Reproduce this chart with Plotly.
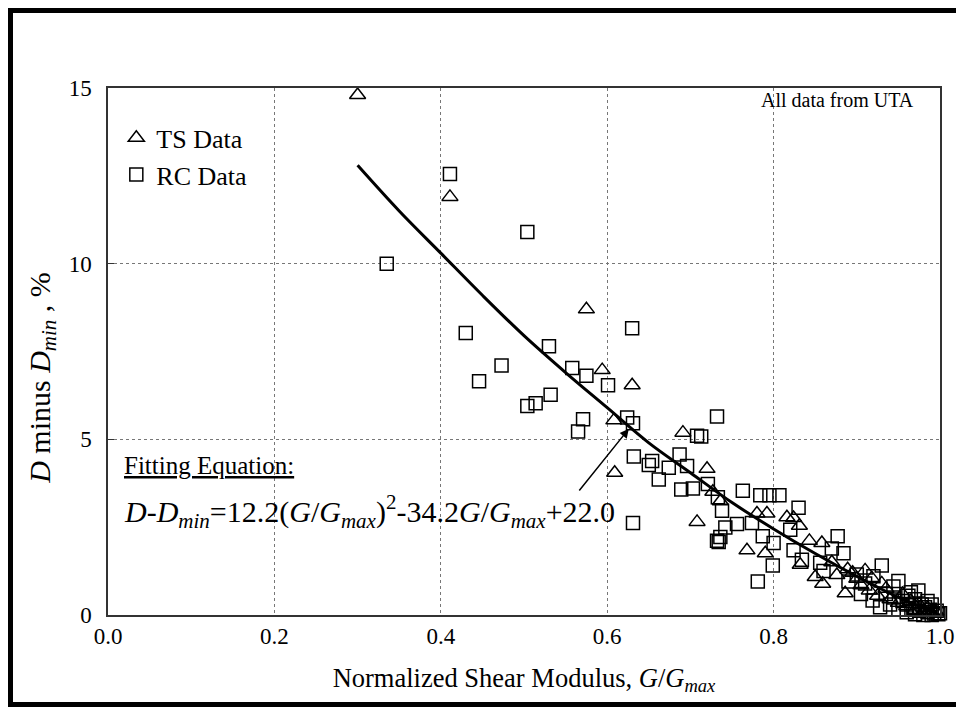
import plotly.graph_objects as go

# ---- data ----
ts_x = [0.300, 0.411, 0.575, 0.594, 0.630, 0.608, 0.609, 0.691, 0.720, 0.708,
        0.727, 0.736, 0.780, 0.792, 0.768, 0.790, 0.816, 0.824, 0.831, 0.843,
        0.858, 0.832, 0.850, 0.859, 0.886, 0.889, 0.910, 0.900, 0.876, 0.905,
        0.915, 0.925, 0.930, 0.940, 0.950, 0.955, 0.960, 0.965, 0.970, 0.975,
        0.980, 0.985, 0.990, 0.995, 0.870, 0.895, 0.918, 0.935]
ts_y = [14.8, 11.9, 8.70, 6.97, 6.54, 5.54, 4.05, 5.19, 4.16, 2.65,
        3.51, 3.24, 2.89, 2.89, 1.84, 1.76, 2.78, 2.76, 2.54, 2.11,
        2.05, 1.43, 1.08, 0.89, 0.62, 1.30, 1.27, 1.03, 1.14, 0.85,
        0.70, 0.55, 0.90, 0.45, 0.35, 0.60, 0.25, 0.40, 0.15, 0.30,
        0.10, 0.20, 0.05, 0.10, 1.50, 1.20, 1.05, 0.75]

rc_x = [0.411, 0.335, 0.504, 0.430, 0.630, 0.530, 0.473, 0.446, 0.558, 0.575,
        0.601, 0.532, 0.514, 0.504, 0.571, 0.565, 0.624, 0.631, 0.708, 0.713,
        0.732, 0.632, 0.654, 0.650, 0.662, 0.674, 0.687, 0.696, 0.689, 0.703,
        0.721, 0.631, 0.732, 0.733, 0.738, 0.742, 0.736, 0.734, 0.756, 0.763,
        0.784, 0.795, 0.807, 0.830, 0.774, 0.787, 0.800, 0.799, 0.781, 0.820,
        0.877, 0.824, 0.834, 0.870, 0.884, 0.856, 0.930, 0.950, 0.974, 0.919,
        0.928, 0.944, 0.935, 0.945, 0.955, 0.960, 0.962, 0.968, 0.970, 0.975,
        0.978, 0.982, 0.985, 0.988, 0.990, 0.993, 0.996, 0.998, 0.940, 0.950,
        0.960, 0.970, 0.980, 0.990, 1.000, 0.985, 0.965, 0.910, 0.900, 0.920,
        0.890, 0.860, 0.905]
rc_y = [12.55, 10.0, 10.9, 8.03, 8.16, 7.65, 7.10, 6.65, 7.03, 6.81,
        6.54, 6.27, 6.03, 5.95, 5.57, 5.22, 5.62, 5.46, 5.10, 5.08,
        5.65, 4.51, 4.38, 4.27, 3.86, 4.19, 4.57, 4.24, 3.57, 3.60,
        3.73, 2.62, 2.11, 3.35, 2.97, 2.49, 2.22, 2.08, 2.59, 3.54,
        3.41, 3.41, 3.41, 3.05, 2.62, 2.24, 2.05, 1.41, 0.95, 2.43,
        2.24, 1.84, 1.57, 1.89, 1.76, 1.49, 1.41, 0.97, 0.70, 0.41,
        0.22, 0.81, 0.60, 0.50, 0.40, 0.30, 0.55, 0.20, 0.45, 0.12,
        0.30, 0.22, 0.08, 0.15, 0.30, 0.04, 0.12, 0.02, 0.30, 0.15,
        0.08, 0.02, 0.00, 0.00, 0.05, 0.40, 0.65, 0.90, 1.15, 1.10,
        0.95, 1.25, 0.60]

fit_x = [0.30, 0.35, 0.40, 0.45, 0.50, 0.55, 0.60, 0.65, 0.70, 0.75,
         0.80, 0.85, 0.90, 0.95, 1.00]
fit_y = [12.8, 11.5, 10.3, 9.1, 7.95, 6.9, 5.9, 4.9, 4.05, 3.2,
         2.45, 1.75, 1.1, 0.5, 0.0]

x_ticks = [0.0, 0.2, 0.4, 0.6, 0.8, 1.0]
x_tick_labels = ["0.0", "0.2", "0.4", "0.6", "0.8", "1.0"]
y_ticks = [0, 5, 10, 15]
y_tick_labels = ["0", "5", "10", "15"]

FONT = "Liberation Serif"

fig = go.Figure()
fig.add_trace(go.Scatter(
    x=ts_x, y=ts_y, mode="markers", name="TS Data", legendgroup="ts",
    marker=dict(symbol="triangle-up-open", size=14, color="black",
                line=dict(width=1.5, color="black")),
    cliponaxis=False))
fig.add_trace(go.Scatter(
    x=rc_x, y=rc_y, mode="markers", name="RC Data", legendgroup="rc",
    marker=dict(symbol="square-open", size=13, color="black",
                line=dict(width=1.5, color="black")),
    cliponaxis=False))
fig.add_trace(go.Scatter(
    x=fit_x, y=fit_y, mode="lines", showlegend=False,
    line=dict(color="black", width=3, shape="spline")))

fig.update_layout(
    width=948, height=699,
    margin=dict(l=100, r=16, t=80, b=92, autoexpand=False),
    paper_bgcolor="white", plot_bgcolor="white",
    font=dict(family=FONT, color="black", size=22),
    showlegend=True,
    legend=dict(x=0.01, y=0.95, xanchor="left", yanchor="top",
                bgcolor="rgba(0,0,0,0)", font=dict(size=26, family=FONT),
                tracegroupgap=0, itemwidth=30),
    xaxis=dict(range=[0, 1.0], tickvals=x_ticks, ticktext=x_tick_labels,
               showline=True, linecolor="#333", linewidth=1.5, mirror=True,
               showgrid=True, gridcolor="#777", griddash="dot", gridwidth=1,
               zeroline=False, ticks="", ticklabelstandoff=0,
               tickfont=dict(size=23, family=FONT),
               title=dict(text="Normalized Shear Modulus, <i>G</i>/<i>G</i><sub><i>max</i></sub>",
                          font=dict(size=26.5, family=FONT), standoff=20)),
    yaxis=dict(range=[0, 15], tickvals=y_ticks, ticktext=y_tick_labels,
               showline=True, linecolor="#333", linewidth=1.5, mirror=True,
               showgrid=True, gridcolor="#777", griddash="dot", gridwidth=1,
               zeroline=False, ticks="inside", ticklen=6, tickcolor="#333",
               ticklabelstandoff=10,
               tickfont=dict(size=23, family=FONT)),
)

# y-axis title (placed as rotated text so it sits where the reference has it)
fig.add_annotation(text="<i>D</i> minus <i>D<sub>min</sub></i> , %",
                   xref="paper", yref="paper", x=(42 - 108) / 832, y=0.45,
                   xanchor="center", yanchor="middle", textangle=-90,
                   showarrow=False, font=dict(size=30, family=FONT))
fig.add_annotation(text="All data from UTA", xref="paper", yref="paper",
                   x=0.877, y=0.977, xanchor="center", yanchor="middle",
                   showarrow=False, font=dict(size=20, family=FONT))
fig.add_annotation(text="<u>Fitting Equation:</u>", xref="paper", yref="paper",
                   x=0.017, y=0.283, xanchor="left", yanchor="middle",
                   showarrow=False, font=dict(size=25, family=FONT))
fig.add_annotation(
    text="<i>D</i>-<i>D</i><sub><i>min</i></sub>=12.2(<i>G</i>/<i>G</i><sub><i>max</i></sub>)<sup>2</sup>-34.2<i>G</i>/<i>G</i><sub><i>max</i></sub>+22.0",
    xref="paper", yref="paper", x=0.017, y=0.196, xanchor="left", yanchor="middle",
    showarrow=False, font=dict(size=30, family=FONT))
fig.add_annotation(x=0.626, y=5.3, ax=0.565, ay=3.5, xref="x", yref="y",
                   axref="x", ayref="y", text="", showarrow=True,
                   arrowhead=2, arrowsize=1.2, arrowwidth=1.5, arrowcolor="black")

# outer frame (left, top, bottom) around the whole picture
fig.add_shape(type="rect", xref="paper", yref="paper",
              x0=(2 - 100) / 832, x1=(975 - 100) / 832,
              y0=(607 - 697) / 527, y1=(607 - 2) / 527,
              line=dict(color="black", width=6), fillcolor="rgba(0,0,0,0)",
              layer="above")

fig.write_html("out.html")
